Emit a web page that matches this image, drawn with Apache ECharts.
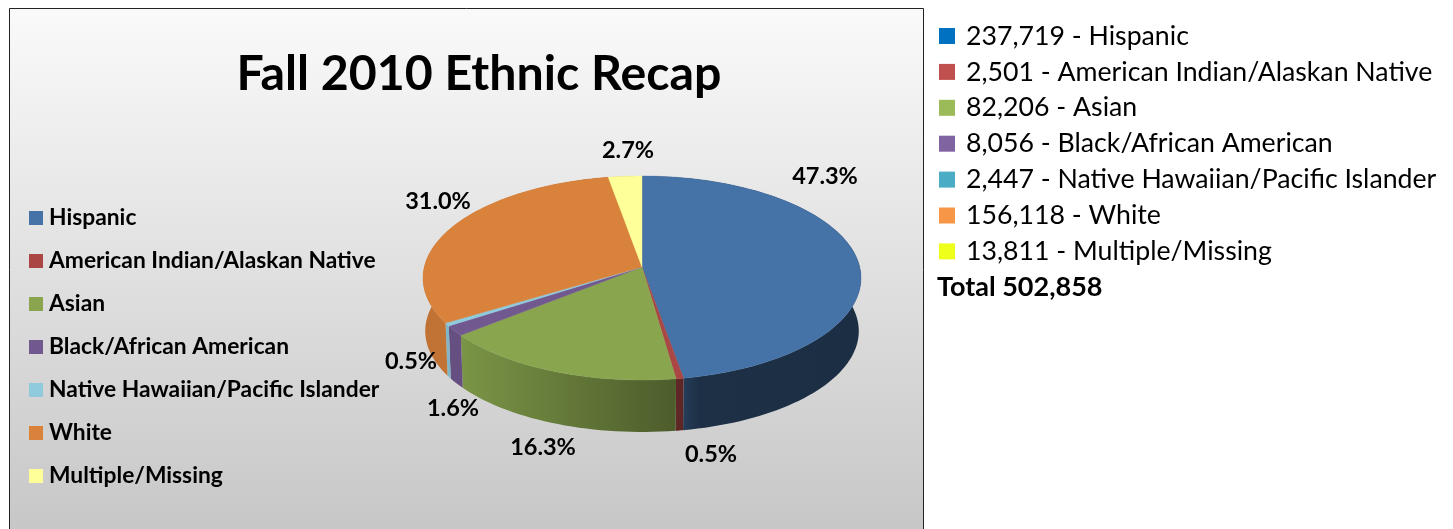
<!DOCTYPE html>
<html>
<head>
<meta charset="utf-8">
<title>Fall 2010 Ethnic Recap</title>
<script src="https://cdn.jsdelivr.net/npm/echarts@6/dist/echarts.min.js"></script>
<style>
  html, body { margin: 0; padding: 0; background: #fff; }
  #main { width: 1453px; height: 529px; }
</style>
</head>
<body>
<div id="main"></div>
<script>
const categories = ['Hispanic', 'American Indian/Alaskan Native', 'Asian', 'Black/African American',
  'Native Hawaiian/Pacific Islander', 'White', 'Multiple/Missing'];
const counts = [237719, 2501, 82206, 8056, 2447, 156118, 13811];
const total = 502858;
const sliceColors = ['#4572A7', '#AA4643', '#89A54E', '#71588F', '#8FCBDD', '#D9823B', '#FFFF99'];
const tableColors = ['#0070C0', '#C0504D', '#9BBB59', '#8064A2', '#4BACC6', '#F79646', '#EEFF1A'];

// 百分比标签的位置（像素）
const labelPx = [[825, 176], [711, 454], [543, 447], [453, 408], [411, 361], [438, 201], [628, 150]];

const FONT = 'Lato, "Open Sans", sans-serif';
const PERSPECTIVE = 0.108;   // 近大远小
const WALL_DROP = 0.527;     // 侧面高度（y轴单位）
const WALL_SCALE = 0.99;
const chart = echarts.init(document.getElementById('main'), null, { width: 1453, height: 529 });

function shade(hex, f) {
  const n = parseInt(hex.slice(1), 16);
  const c = [n >> 16, (n >> 8) & 255, n & 255].map(v => Math.round(v * f));
  return `rgb(${c[0]},${c[1]},${c[2]})`;
}

function project(frac, scale, drop) {
  const a = frac * Math.PI * 2;
  const u = Math.sin(a);
  const v = Math.cos(a);
  const w = 1 + PERSPECTIVE * v;
  return [scale * u / w, scale * v / w - drop];
}

function renderSlice(index) {
  const start = counts.slice(0, index).reduce((s, v) => s + v, 0) / total;
  const end = start + counts[index] / total;
  return function (params, api) {
    const top = [];
    const bottom = [];
    const steps = Math.max(4, Math.ceil((end - start) * 200));
    for (let i = 0; i <= steps; i++) {
      const f = start + (end - start) * i / steps;
      top.push(api.coord(project(f, 1, 0)));
      bottom.push(api.coord(project(f, WALL_SCALE, WALL_DROP)));
    }
    const color = sliceColors[index];
    // 侧面：从左到右逐渐变暗
    const left = api.coord([-1, 0])[0];
    const right = api.coord([1, 0])[0];
    const wallFill = new echarts.graphic.LinearGradient(left, 0, right, 0, [
      { offset: 0, color: shade(color, 0.88) },
      { offset: 0.08, color: shade(color, 0.9) },
      { offset: 0.59, color: shade(color, 0.55) },
      { offset: 0.63, color: shade(color, 0.42) },
      { offset: 1, color: shade(color, 0.4) }
    ], true);
    const apex = api.coord([0, 0]);
    return {
      type: 'group',
      children: [
        {
          type: 'polygon',
          z2: 1,
          shape: { points: top.concat(bottom.slice().reverse()) },
          style: { fill: wallFill }
        },
        {
          type: 'polygon',
          z2: 10,
          shape: { points: [apex].concat(top) },
          style: { fill: color, stroke: color, lineWidth: 0.4 }
        },
        {
          type: 'text',
          z2: 20,
          style: {
            x: labelPx[index][0],
            y: labelPx[index][1],
            text: (counts[index] / total * 100).toFixed(1) + '%',
            fontFamily: FONT,
            fontSize: 23.5,
            fontWeight: 'bold',
            fill: '#000',
            align: 'center',
            verticalAlign: 'middle'
          }
        }
      ]
    };
  };
}

chart.setOption({
  animation: false,
  title: [
    {
      text: 'Fall 2010 Ethnic Recap',
      left: 474,
      top: 45,
      textAlign: 'center',
      textStyle: { fontFamily: FONT, fontSize: 48.3, fontWeight: 'bold', color: '#000' }
    },
    {
      text: 'Total ' + total.toLocaleString('en-US'),
      left: 937,
      top: 274,
      padding: 0,
      textStyle: { fontFamily: FONT, fontSize: 27, fontWeight: 'bold', color: '#000' }
    }
  ],
  grid: { left: 424.3, width: 435.4, top: 166.2, height: 201.6 },
  xAxis: { type: 'value', min: -1, max: 1, show: false },
  yAxis: { type: 'value', min: -1, max: 1, show: false },
  legend: [
    {
      data: categories,
      orient: 'vertical',
      left: 29,
      top: 205,
      icon: 'rect',
      itemWidth: 14,
      itemHeight: 14,
      itemGap: 17,
      padding: 0,
      selectedMode: false,
      textStyle: { fontFamily: FONT, fontSize: 22.8, fontWeight: 'bold', color: '#000', lineHeight: 26, padding: [0, 0, 0, 1] }
    },
    {
      data: categories.map((name, i) => ({ name, itemStyle: { color: tableColors[i] } })),
      orient: 'vertical',
      left: 939,
      top: 20,
      icon: 'rect',
      itemWidth: 16,
      itemHeight: 16,
      itemGap: 3.9,
      padding: 0,
      selectedMode: false,
      formatter: name => counts[categories.indexOf(name)].toLocaleString('en-US') + ' - ' + name,
      textStyle: { fontFamily: FONT, fontSize: 26.7, color: '#000', lineHeight: 32, padding: [0, 0, 0, 6] }
    }
  ],
  graphic: [
    {
      type: 'rect',
      z: -10,
      shape: { x: 9.5, y: 8.5, width: 914, height: 530 },
      style: {
        stroke: '#222',
        lineWidth: 1,
        fill: new echarts.graphic.LinearGradient(0, 0, 0, 1, [
          { offset: 0, color: '#FAFAFA' },
          { offset: 1, color: '#C6C6C6' }
        ])
      }
    }
  ],
  series: categories.map((name, i) => ({
    name,
    type: 'custom',
    itemStyle: { color: sliceColors[i] },
    renderItem: renderSlice(i),
    data: [[counts[i]]]
  }))
});
</script>
</body>
</html>
